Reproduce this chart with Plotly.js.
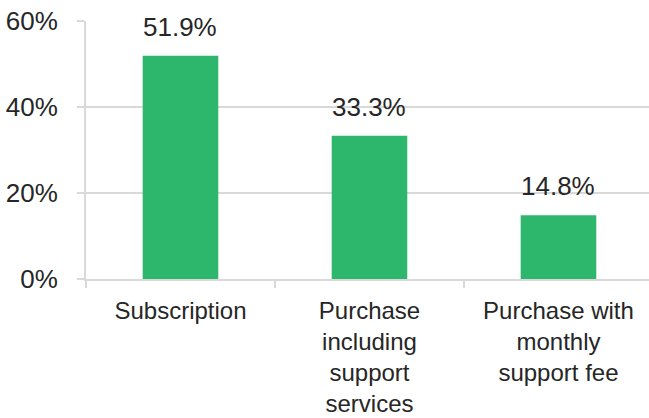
<!DOCTYPE html>
<html>
<head>
<meta charset="utf-8">
<script src="https://cdn.plot.ly/plotly-3.0.1.min.js"></script>
<style>html,body{margin:0;padding:0;background:#fff;}#chart{width:649px;height:418px;}</style>
</head>
<body>
<div id="chart"></div>
<script>
var categories = ["Subscription", "Purchase<br>including<br>support<br>services", "Purchase with<br>monthly<br>support fee"];
var values = [51.9, 33.3, 14.8];
var valueLabels = ["51.9%", "33.3%", "14.8%"];
var yTickVals = [0, 20, 40, 60];
var yTickText = ["0%", "20%", "40%", "60%"];

var textColor = "#262626";
var gridColor = "#d9d9d9";
var font = "Liberation Sans, Arial, sans-serif";

var trace = {
  type: "bar",
  x: categories,
  y: values,
  width: 0.4,
  marker: {color: "#2db76d"},
  hoverinfo: "none"
};

var annotations = categories.map(function (c, i) {
  return {
    x: c, y: values[i], xref: "x", yref: "y",
    text: valueLabels[i], showarrow: false,
    yanchor: "bottom", yshift: 12,
    font: {family: font, size: 26, color: textColor}
  };
});

var layout = {
  width: 649, height: 418,
  margin: {l: 86, r: 0, t: 21, b: 139, pad: 0},
  paper_bgcolor: "#fff", plot_bgcolor: "#fff",
  showlegend: false,
  font: {family: font, color: textColor},
  xaxis: {
    type: "category",
    range: [-0.5, 2.479],
    showline: true, linecolor: gridColor, linewidth: 2,
    ticks: "outside", tickson: "boundaries", ticklen: 7, tickwidth: 2, tickcolor: gridColor,
    tickfont: {family: font, size: 24, color: textColor},
    ticklabelstandoff: 9,
    showgrid: false, zeroline: false, fixedrange: true
  },
  yaxis: {
    range: [0, 60],
    tickvals: yTickVals, ticktext: yTickText,
    showline: true, linecolor: gridColor, linewidth: 2,
    showgrid: true, gridcolor: gridColor, gridwidth: 2,
    ticks: "outside", ticklen: 7, tickwidth: 2, tickcolor: gridColor,
    tickfont: {family: font, size: 26, color: textColor},
    ticklabelstandoff: 14,
    zeroline: false, fixedrange: true
  },
  annotations: annotations
};

Plotly.newPlot("chart", [trace], layout, {displayModeBar: false, staticPlot: true});
</script>
</body>
</html>
